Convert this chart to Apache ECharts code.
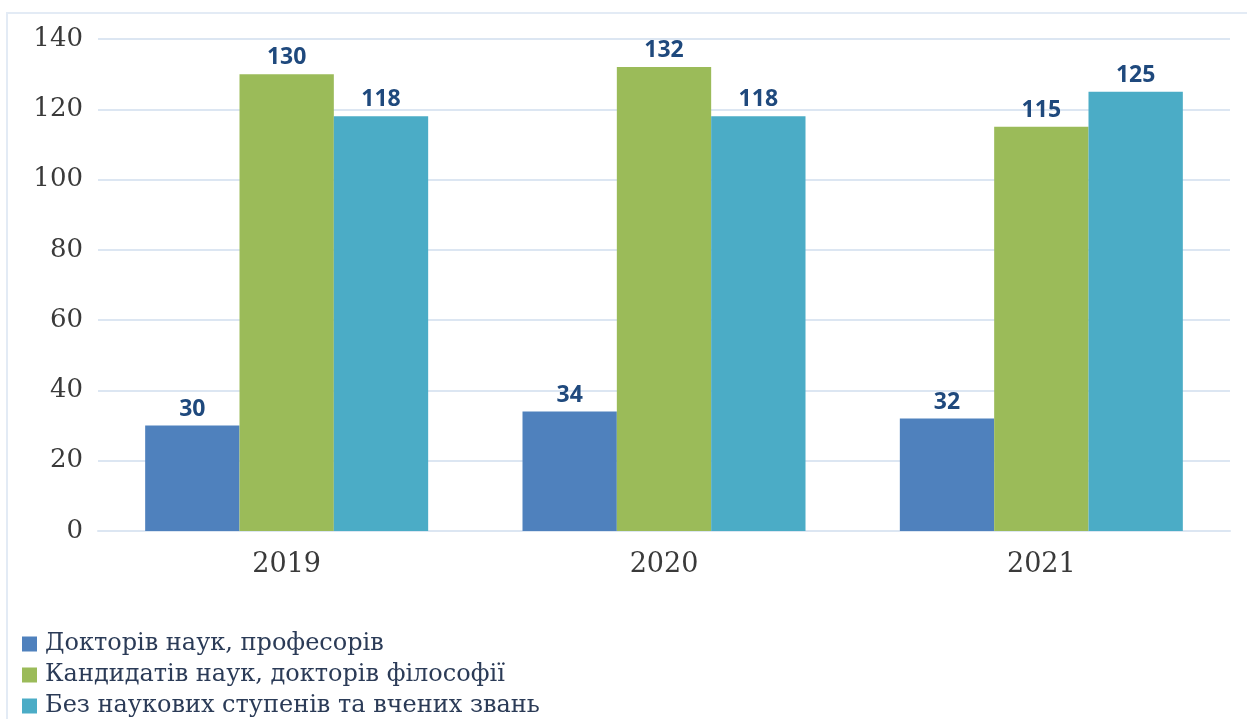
<!DOCTYPE html>
<html>
<head>
<meta charset="UTF-8">
<title>Chart</title>
<script src="https://cdn.jsdelivr.net/npm/echarts@6/dist/echarts.min.js"></script>
<style>
  html, body { margin: 0; padding: 0; background: #fff; }
  #main { width: 1247px; height: 719px; }
</style>
</head>
<body>
<div id="main"></div>
<script type="text/javascript">
    // дані
    var years = ['2019', '2020', '2021'];
    var seriesNames = [
        'Докторів наук, професорів',
        'Кандидатів наук, докторів філософії',
        'Без наукових ступенів та вчених звань'
    ];
    var doctors = [30, 34, 32];
    var candidates = [130, 132, 115];
    var noDegree = [118, 118, 125];
    var colors = ['#4f81bd', '#9bbb59', '#4bacc6'];

    var myChart = echarts.init(document.getElementById('main'));

    var labelStyle = {
        show: true,
        position: 'top',
        distance: 5,
        color: '#1f497d',
        fontFamily: 'Noto Sans',
        fontWeight: 'bold',
        fontSize: 23
    };

    function makeSeries(name, data, color) {
        return {
            name: name,
            type: 'bar',
            data: data,
            barGap: '0%',
            barCategoryGap: '25%',
            itemStyle: { color: color },
            label: labelStyle
        };
    }

    var option = {
        animation: false,
        color: colors,
        graphic: [{
            type: 'rect',
            shape: { x: 7, y: 13, width: 1260, height: 720 },
            style: { fill: 'none', stroke: '#e3ebf5', lineWidth: 2 },
            silent: true
        }],
        grid: { left: 98, right: 17, top: 39, bottom: 188 },
        legend: {
            orient: 'vertical',
            left: 22,
            top: 632,
            padding: 0,
            itemWidth: 15,
            itemHeight: 15,
            itemGap: 7,
            icon: 'rect',
            data: seriesNames,
            textStyle: {
                fontFamily: 'DejaVu Serif',
                fontSize: 24,
                lineHeight: 24,
                color: '#2b3b57',
                padding: [0, 0, 0, 3]
            }
        },
        xAxis: {
            type: 'category',
            data: years,
            axisLine: { lineStyle: { color: '#dce6f2', width: 2 } },
            axisTick: { show: false },
            axisLabel: {
                fontFamily: 'DejaVu Serif',
                fontSize: 27,
                color: '#3a3a3a',
                margin: 20
            }
        },
        yAxis: {
            type: 'value',
            min: 0,
            max: 140,
            interval: 20,
            axisLine: { show: false },
            axisTick: { show: false },
            splitLine: { lineStyle: { color: '#dce6f2', width: 2 } },
            axisLabel: {
                fontFamily: 'DejaVu Serif',
                fontSize: 26,
                color: '#3a3a3a',
                margin: 15
            }
        },
        series: [
            makeSeries(seriesNames[0], doctors, colors[0]),
            makeSeries(seriesNames[1], candidates, colors[1]),
            makeSeries(seriesNames[2], noDegree, colors[2])
        ]
    };
    myChart.setOption(option);
</script>
</body>
</html>
